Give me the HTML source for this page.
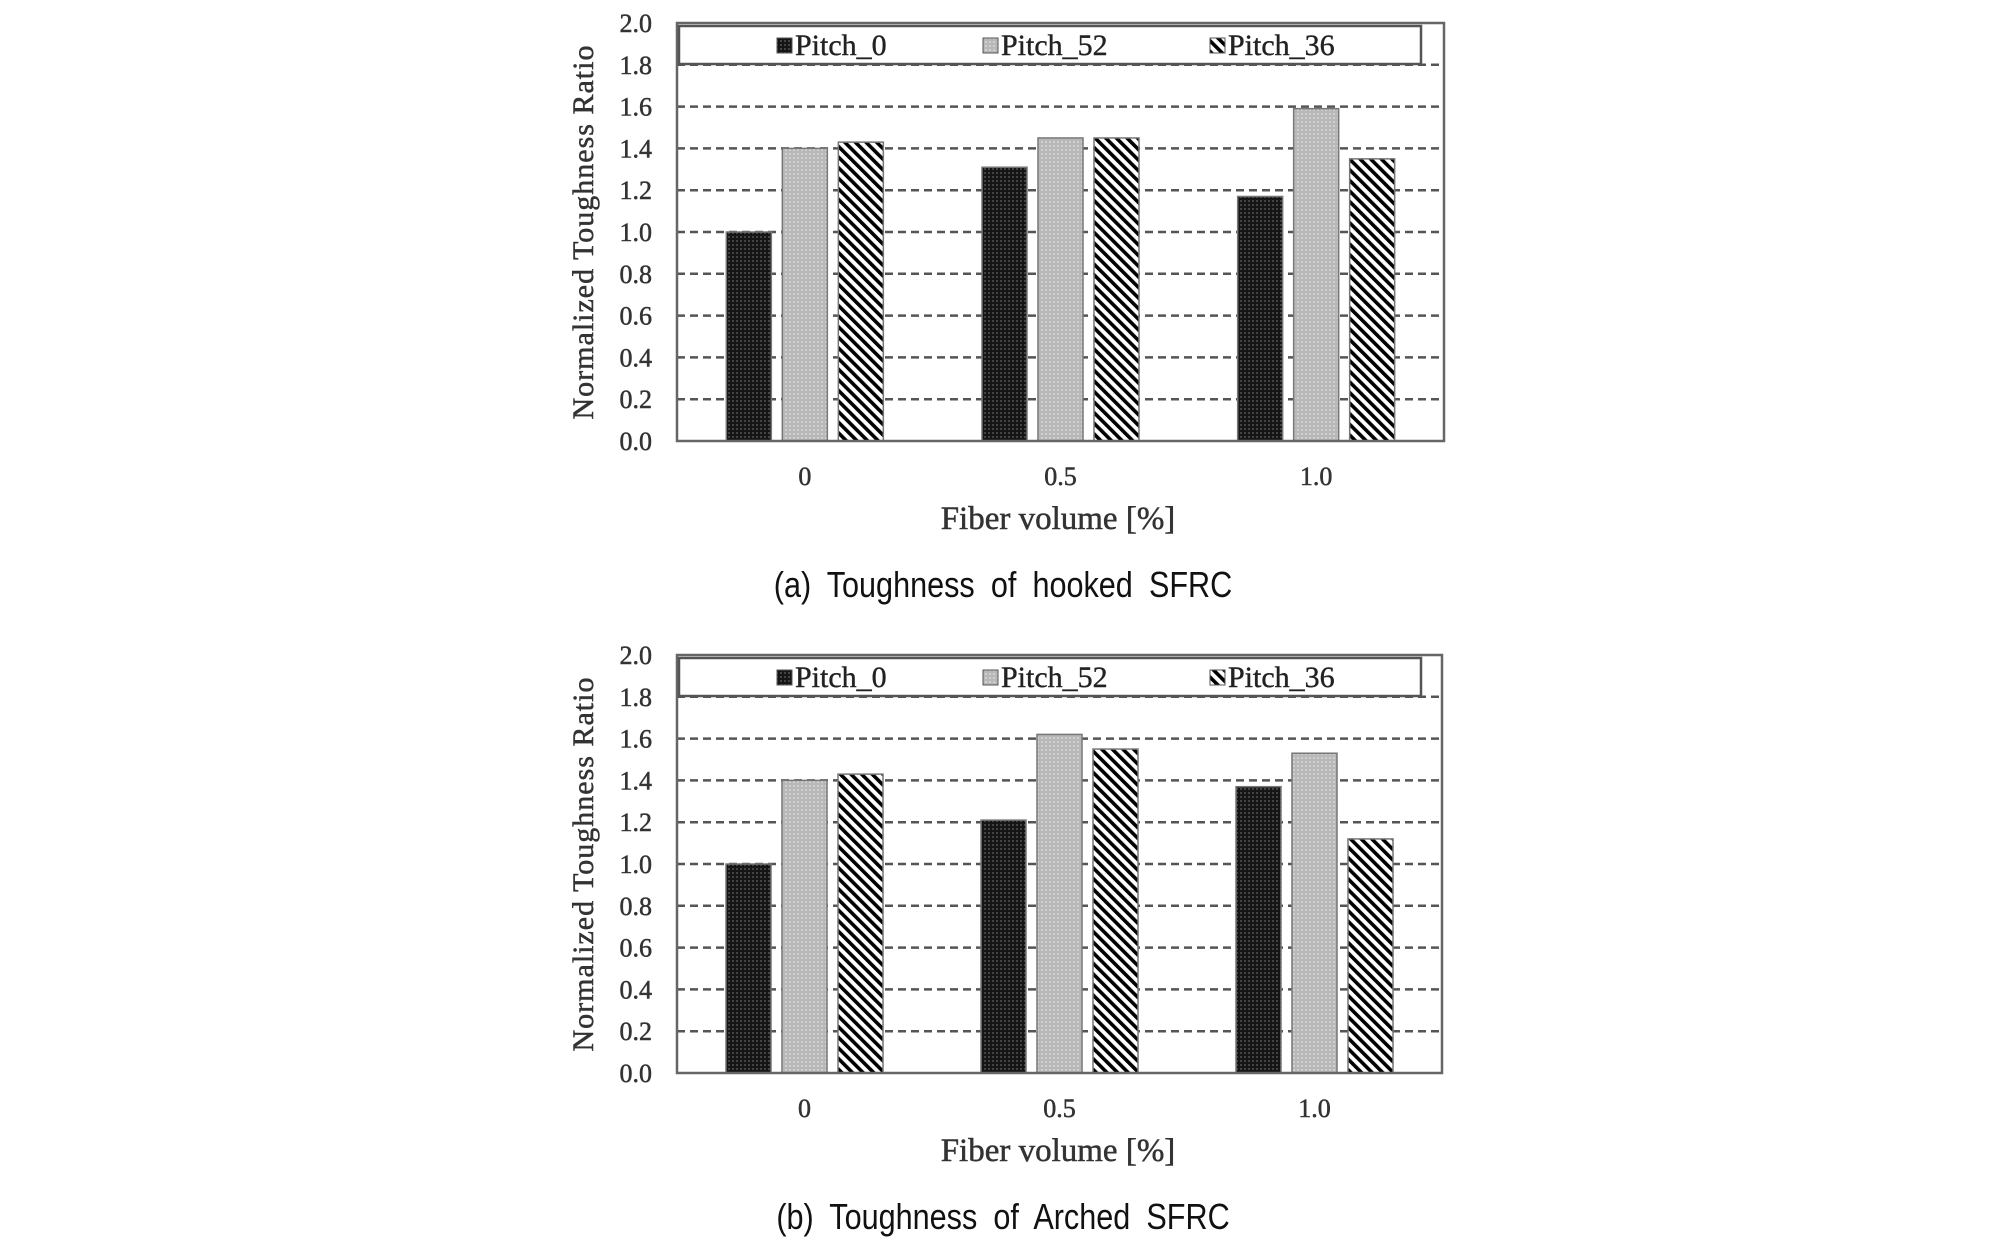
<!DOCTYPE html>
<html><head><meta charset="utf-8"><style>
html,body{margin:0;padding:0;background:#fff;}
svg{display:block;}
</style></head><body>
<svg id="fig" width="2008" height="1242" viewBox="0 0 2008 1242" xmlns="http://www.w3.org/2000/svg">
<defs>
<pattern id="pDark" width="4" height="4" patternUnits="userSpaceOnUse">
<rect width="4" height="4" fill="#151515"/><rect x="0" y="0" width="2" height="2" fill="#444"/>
</pattern>
<pattern id="pGray" width="4" height="4" patternUnits="userSpaceOnUse">
<rect width="4" height="4" fill="#b8b8b8"/><rect x="1" y="1" width="2" height="2" fill="#d0d0d0"/>
</pattern>
<pattern id="pStripe" width="7.5" height="7.5" patternUnits="userSpaceOnUse" patternTransform="rotate(-45)">
<rect width="7.5" height="7.5" fill="#fff"/><rect x="0" y="0" width="3.6" height="7.5" fill="#000"/>
</pattern>
</defs>
</svg>
<script>
const categories = ["0", "0.5", "1.0"];
const seriesNames = ["Pitch_0", "Pitch_52", "Pitch_36"];
const yTicks = [0, 0.2, 0.4, 0.6, 0.8, 1.0, 1.2, 1.4, 1.6, 1.8, 2.0];
const hookedP0 = [1.0, 1.31, 1.17];
const hookedP52 = [1.40, 1.45, 1.59];
const hookedP36 = [1.43, 1.45, 1.35];
const archedP0 = [1.0, 1.21, 1.37];
const archedP52 = [1.40, 1.62, 1.53];
const archedP36 = [1.43, 1.55, 1.12];

const NS = "http://www.w3.org/2000/svg";
const svg = document.getElementById('fig');
const fills = ["url(#pDark)", "url(#pGray)", "url(#pStripe)"];
const serif = '"Liberation Serif", serif';
function mk(tag, attrs, parent, text) {
  const e = document.createElementNS(NS, tag);
  for (const k in attrs) e.setAttribute(k, attrs[k]);
  if (text !== undefined) e.textContent = text;
  (parent || svg).appendChild(e);
  return e;
}
function drawChart(id, top, bottom, right, series, caption) {
  const left = 677;
  const g = mk('g', {});
  
  
  const y = v => bottom - (v / 2.0) * (bottom - top);
  const groupW = (right - left) / categories.length;
  const xc = i => left + groupW * (i + 0.5);
  yTicks.forEach(t => {
    if (t > 0 && t < 2.0) {
      const l = mk('line', {x1: left, x2: right, y1: y(t), y2: y(t), stroke: '#555', 'stroke-width': 2.5, 'stroke-dasharray': '8,5'}, g);
      
      
    }
    const tl = mk('text', {x: 652, y: y(t) + 9, 'text-anchor': 'end', 'font-family': serif, 'font-size': 26, fill: '#333', stroke: '#333', 'stroke-width': 0.5}, g, t.toFixed(1));
    
    
  });
  const bw = 45, step = 56;
  series.forEach((vals, s) => {
    vals.forEach((v, i) => {
      const x = xc(i) + (s - 1) * step - bw / 2;
      const r = mk('rect', {x: x, y: y(v), width: bw, height: bottom - y(v), fill: fills[s], stroke: '#777', 'stroke-width': 1.5}, g);
      
      
    });
  });
  const fr = mk('rect', {x: left, y: top, width: right - left, height: bottom - top, fill: 'none', stroke: '#666', 'stroke-width': 2.5}, g);
  
  
  const lg = mk('g', {}, g);
  
  
  mk('rect', {x: left + 2, y: top + 3, width: 742, height: 38, fill: '#fff', stroke: '#555', 'stroke-width': 2.5}, lg);
  const lx = [777, 983, 1210];
  seriesNames.forEach((n, s) => {
    const e = mk('g', {}, lg);
    
    
    mk('rect', {x: lx[s], y: top + 15, width: 15, height: 15, fill: fills[s], stroke: '#555', 'stroke-width': 1}, e);
    mk('text', {x: lx[s] + 18, y: top + 32, 'font-family': serif, 'font-size': 30, fill: '#222', stroke: '#222', 'stroke-width': 0.4}, e, n);
  });
  categories.forEach((c, i) => {
    const t = mk('text', {x: xc(i), y: bottom + 44, 'text-anchor': 'middle', 'font-family': serif, 'font-size': 26, fill: '#333', stroke: '#333', 'stroke-width': 0.5}, g, c);
    
    
  });
  const xt = mk('text', {x: 1058, y: bottom + 88, 'text-anchor': 'middle', 'font-family': serif, 'font-size': 33, fill: '#333', stroke: '#333', 'stroke-width': 0.5}, g, 'Fiber volume [%]');
  
  
  const yc = (top + bottom) / 2;
  const yt = mk('text', {x: 0, y: 0, transform: 'translate(593,' + yc + ') rotate(-90)', 'text-anchor': 'middle', 'font-family': serif, 'font-size': 30, 'letter-spacing': '1', fill: '#333', stroke: '#333', 'stroke-width': 0.5}, g, 'Normalized  Toughness  Ratio');
  
  
  const cp = mk('text', {x: 0, y: 0, transform: 'translate(1003,' + (bottom + 156) + ') scale(0.85,1)', 'text-anchor': 'middle', 'font-family': '"Liberation Sans", "Noto Sans CJK KR", sans-serif', 'font-size': 36, 'word-spacing': '9', fill: '#111'}, g, caption);
  
  
}
drawChart('chart-hooked', 23, 441, 1444, [hookedP0, hookedP52, hookedP36], '(a) Toughness of hooked SFRC');
drawChart('chart-arched', 655, 1073, 1442, [archedP0, archedP52, archedP36], '(b) Toughness of Arched SFRC');
</script>
</body></html>
